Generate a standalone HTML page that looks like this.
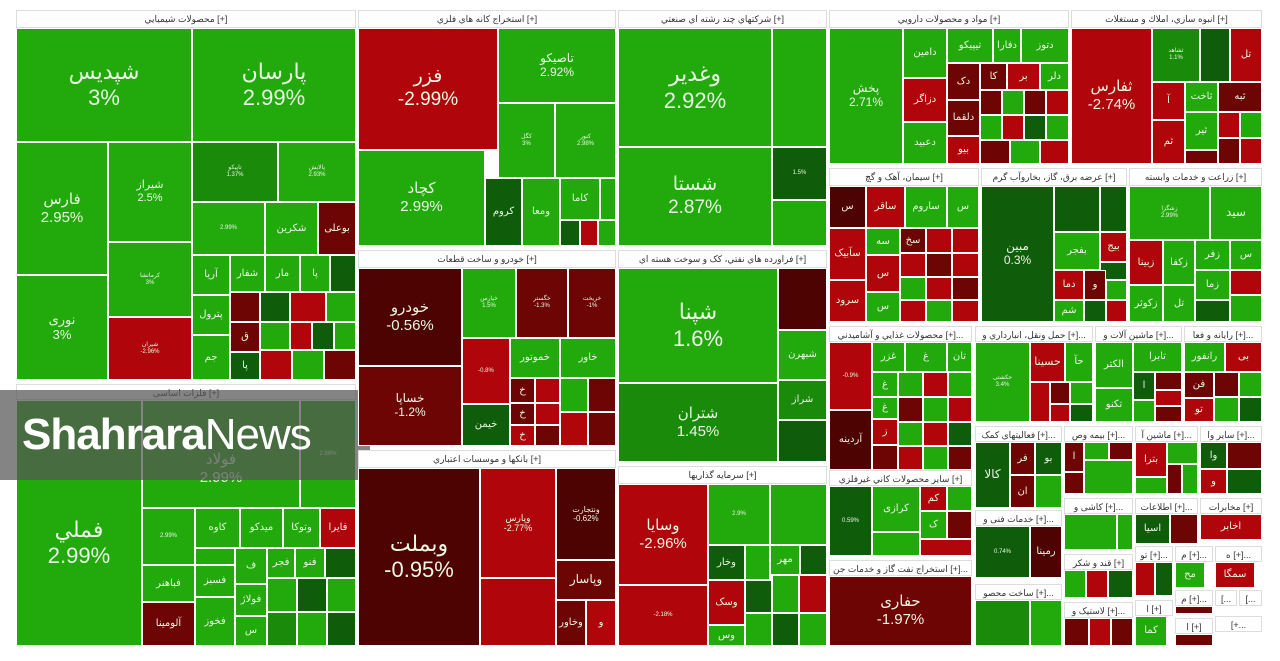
<!DOCTYPE html>
<html><head><meta charset="utf-8"><style>
body{margin:0;width:1280px;height:661px;background:#fff;position:relative;overflow:hidden;font-family:"Liberation Sans","DejaVu Sans",sans-serif}
.c{position:absolute;box-sizing:border-box;border:1px solid #fff;color:#e9f7e4;display:flex;align-items:center;justify-content:center;text-align:center;overflow:hidden;font-size:10px;line-height:1.15}
.h{position:absolute;box-sizing:border-box;background:#fff;border:1px solid #ddd;font-size:9px;color:#333;text-align:center;line-height:16px;overflow:hidden;white-space:nowrap}
.g{background:#22a90b}.g2{background:#1a8a0a}.dg{background:#0f5c0a}.r{background:#b0060b}.dr{background:#6e0505}.ddr{background:#4e0303}
.b{font-size:22px;line-height:1.2}.m{font-size:15px;line-height:1.2}.s{font-size:6px}
.wm{position:absolute;left:0;top:390px;width:370px;height:90px;background:rgba(85,85,85,.72);color:#fff;font-size:44px;line-height:90px;padding-left:22px;box-sizing:border-box;letter-spacing:-1px}
</style></head><body>

<!-- Sector 1 -->
<div class="h" style="left:16px;top:10px;width:340px;height:18px">محصولات شيميايي [+]</div>
<div class="c g b" style="left:16px;top:28px;width:176px;height:114px">شپدیس<br>3%</div>
<div class="c g b" style="left:192px;top:28px;width:164px;height:114px">پارسان<br>2.99%</div>
<div class="c g m" style="left:16px;top:142px;width:92px;height:133px">فارس<br>2.95%</div>
<div class="c g" style="left:16px;top:275px;width:92px;height:105px;font-size:13px">نوری<br>3%</div>
<div class="c g" style="left:108px;top:142px;width:84px;height:100px;font-size:11px">شیراز<br>2.5%</div>
<div class="c g s" style="left:108px;top:242px;width:84px;height:75px">کرمانشا<br>3%</div>
<div class="c r s" style="left:108px;top:317px;width:84px;height:63px">شیران<br>-2.96%</div>
<div class="c g2 s" style="left:192px;top:142px;width:86px;height:60px">تاپیکو<br>1.37%</div>
<div class="c g s" style="left:278px;top:142px;width:78px;height:60px">پالایش<br>2.93%</div>
<div class="c g s" style="left:192px;top:202px;width:73px;height:53px">2.99%</div>
<div class="c g" style="left:265px;top:202px;width:53px;height:53px">شکرین</div>
<div class="c dr" style="left:318px;top:202px;width:38px;height:53px">بوعلی</div>
<div class="c g" style="left:192px;top:255px;width:38px;height:40px">آریا</div>
<div class="c g" style="left:230px;top:255px;width:35px;height:37px">شفار</div>
<div class="c g" style="left:265px;top:255px;width:35px;height:37px">مار</div>
<div class="c g" style="left:300px;top:255px;width:30px;height:37px">پا</div>
<div class="c dg" style="left:330px;top:255px;width:26px;height:37px"></div>
<div class="c g" style="left:192px;top:295px;width:38px;height:40px">پترول</div>
<div class="c g" style="left:192px;top:335px;width:38px;height:45px">جم</div>
<div class="c dr" style="left:230px;top:292px;width:30px;height:30px"></div>
<div class="c dg" style="left:260px;top:292px;width:30px;height:30px"></div>
<div class="c r" style="left:290px;top:292px;width:36px;height:30px"></div>
<div class="c g" style="left:326px;top:292px;width:30px;height:30px"></div>
<div class="c dr" style="left:230px;top:322px;width:30px;height:30px">ق</div>
<div class="c g" style="left:260px;top:322px;width:30px;height:28px"></div>
<div class="c r" style="left:290px;top:322px;width:22px;height:28px"></div>
<div class="c dg" style="left:312px;top:322px;width:22px;height:28px"></div>
<div class="c g" style="left:334px;top:322px;width:22px;height:28px"></div>
<div class="c dg" style="left:230px;top:352px;width:30px;height:28px">پا</div>
<div class="c r" style="left:260px;top:350px;width:32px;height:30px"></div>
<div class="c g" style="left:292px;top:350px;width:32px;height:30px"></div>
<div class="c dr" style="left:324px;top:350px;width:32px;height:30px"></div>

<!-- Sector فلزات -->
<div class="h" style="left:16px;top:384px;width:340px;height:16px">فلزات اساسی [+]</div>
<div class="c g b" style="left:16px;top:400px;width:126px;height:246px;padding-top:40px">فملي<br>2.99%</div>
<div class="c g m" style="left:142px;top:400px;width:158px;height:108px;padding-top:30px">فولاد<br>2.99%</div>
<div class="c g s" style="left:300px;top:400px;width:56px;height:108px">2.88%</div>
<div class="c g s" style="left:142px;top:508px;width:53px;height:57px">2.99%</div>
<div class="c g" style="left:195px;top:508px;width:45px;height:40px">کاوه</div>
<div class="c g" style="left:240px;top:508px;width:43px;height:40px">میدکو</div>
<div class="c g" style="left:283px;top:508px;width:37px;height:40px">وتوکا</div>
<div class="c r" style="left:320px;top:508px;width:36px;height:40px">فایرا</div>
<div class="c g" style="left:142px;top:565px;width:53px;height:37px">فباهنر</div>
<div class="c dr" style="left:142px;top:602px;width:53px;height:44px">آلومینا</div>
<div class="c g" style="left:195px;top:548px;width:40px;height:17px"></div>
<div class="c g" style="left:195px;top:565px;width:40px;height:32px">فسبز</div>
<div class="c g" style="left:195px;top:597px;width:40px;height:49px">فخوز</div>
<div class="c g" style="left:235px;top:548px;width:32px;height:36px">ف</div>
<div class="c g" style="left:267px;top:548px;width:28px;height:30px">فجر</div>
<div class="c g" style="left:295px;top:548px;width:30px;height:30px">فنو</div>
<div class="c dg" style="left:325px;top:548px;width:31px;height:30px"></div>
<div class="c g" style="left:235px;top:584px;width:32px;height:32px">فولاژ</div>
<div class="c g" style="left:235px;top:616px;width:32px;height:30px">س</div>
<div class="c g" style="left:267px;top:578px;width:30px;height:34px"></div>
<div class="c dg" style="left:297px;top:578px;width:30px;height:34px"></div>
<div class="c g" style="left:327px;top:578px;width:29px;height:34px"></div>
<div class="c g2" style="left:267px;top:612px;width:30px;height:34px"></div>
<div class="c g" style="left:297px;top:612px;width:30px;height:34px"></div>
<div class="c dg" style="left:327px;top:612px;width:29px;height:34px"></div>
<div class="wm"><b>Shahrara</b>News</div>

<!-- Col 2 -->
<div class="h" style="left:358px;top:10px;width:258px;height:18px">استخراج کانه هاي فلزي [+]</div>
<div class="c r b" style="left:358px;top:28px;width:140px;height:122px;font-size:19px">فزر<br>-2.99%</div>
<div class="c g m" style="left:358px;top:150px;width:127px;height:96px">کچاد<br>2.99%</div>
<div class="c g" style="left:498px;top:28px;width:118px;height:75px;font-size:12px">تاصیکو<br>2.92%</div>
<div class="c g s" style="left:498px;top:103px;width:57px;height:75px">کگل<br>3%</div>
<div class="c g s" style="left:555px;top:103px;width:61px;height:75px">کنور<br>2.98%</div>
<div class="c dg" style="left:485px;top:178px;width:37px;height:68px">کروم</div>
<div class="c g" style="left:522px;top:178px;width:38px;height:68px">ومعا</div>
<div class="c g" style="left:560px;top:178px;width:40px;height:42px">کاما</div>
<div class="c g" style="left:600px;top:178px;width:16px;height:42px"></div>
<div class="c dg" style="left:560px;top:220px;width:20px;height:26px"></div>
<div class="c r" style="left:580px;top:220px;width:18px;height:26px"></div>
<div class="c g" style="left:598px;top:220px;width:18px;height:26px"></div>

<div class="h" style="left:358px;top:250px;width:258px;height:18px">خودرو و ساخت قطعات [+]</div>
<div class="c ddr m" style="left:358px;top:268px;width:104px;height:98px">خودرو<br>-0.56%</div>
<div class="c dr" style="left:358px;top:366px;width:104px;height:80px;font-size:12px">خساپا<br>-1.2%</div>
<div class="c g s" style="left:462px;top:268px;width:54px;height:70px">خپارس<br>1.5%</div>
<div class="c dr s" style="left:516px;top:268px;width:52px;height:70px">خگستر<br>-1.3%</div>
<div class="c dr s" style="left:568px;top:268px;width:48px;height:70px">خریخت<br>-1%</div>
<div class="c r s" style="left:462px;top:338px;width:48px;height:66px">-0.8%</div>
<div class="c g" style="left:510px;top:338px;width:50px;height:40px">خموتور</div>
<div class="c g" style="left:560px;top:338px;width:56px;height:40px">خاور</div>
<div class="c dg" style="left:462px;top:404px;width:48px;height:42px">خیمن</div>
<div class="c dr" style="left:510px;top:378px;width:25px;height:25px">خ</div>
<div class="c r" style="left:535px;top:378px;width:25px;height:25px"></div>
<div class="c dr" style="left:510px;top:403px;width:25px;height:22px">خ</div>
<div class="c r" style="left:535px;top:403px;width:25px;height:22px"></div>
<div class="c r" style="left:510px;top:425px;width:25px;height:21px">خ</div>
<div class="c dr" style="left:535px;top:425px;width:25px;height:21px"></div>
<div class="c g" style="left:560px;top:378px;width:28px;height:34px"></div>
<div class="c dr" style="left:588px;top:378px;width:28px;height:34px"></div>
<div class="c r" style="left:560px;top:412px;width:28px;height:34px"></div>
<div class="c dr" style="left:588px;top:412px;width:28px;height:34px"></div>

<div class="h" style="left:358px;top:450px;width:258px;height:18px">بانکها و موسسات اعتباري [+]</div>
<div class="c ddr b" style="left:358px;top:468px;width:122px;height:178px">وبملت<br>-0.95%</div>
<div class="c r s" style="left:480px;top:468px;width:76px;height:110px;font-size:9px">وپارس<br>-2.77%</div>
<div class="c ddr s" style="left:556px;top:468px;width:60px;height:92px;font-size:8px">ونتجارت<br>-0.62%</div>
<div class="c r" style="left:480px;top:578px;width:76px;height:68px"></div>
<div class="c dr" style="left:556px;top:560px;width:60px;height:40px;font-size:12px">وپاسار</div>
<div class="c dr" style="left:556px;top:600px;width:30px;height:46px">وخاور</div>
<div class="c r" style="left:586px;top:600px;width:30px;height:46px">و</div>

<!-- Col 3 -->
<div class="h" style="left:618px;top:10px;width:209px;height:18px">شرکتهاي چند رشته اي صنعتي [+]</div>
<div class="c g b" style="left:618px;top:28px;width:154px;height:119px">وغدیر<br>2.92%</div>
<div class="c g b" style="left:618px;top:147px;width:154px;height:99px;font-size:19px">شستا<br>2.87%</div>
<div class="c g" style="left:772px;top:28px;width:55px;height:119px"></div>
<div class="c dg s" style="left:772px;top:147px;width:55px;height:53px">1.5%</div>
<div class="c g" style="left:772px;top:200px;width:55px;height:46px"></div>

<div class="h" style="left:618px;top:250px;width:209px;height:18px">فراورده هاي نفتي، کک و سوخت هسته اي [+]</div>
<div class="c g b" style="left:618px;top:268px;width:160px;height:115px">شپنا<br>1.6%</div>
<div class="c g2 m" style="left:618px;top:383px;width:160px;height:79px">شتران<br>1.45%</div>
<div class="c ddr" style="left:778px;top:268px;width:49px;height:62px"></div>
<div class="c g" style="left:778px;top:330px;width:49px;height:50px">شبهرن</div>
<div class="c g2" style="left:778px;top:380px;width:49px;height:40px">شراز</div>
<div class="c dg" style="left:778px;top:420px;width:49px;height:42px"></div>

<div class="h" style="left:618px;top:466px;width:209px;height:18px">سرمايه گذاريها [+]</div>
<div class="c r m" style="left:618px;top:484px;width:90px;height:101px">وسایا<br>-2.96%</div>
<div class="c r s" style="left:618px;top:585px;width:90px;height:61px">-2.18%</div>
<div class="c g s" style="left:708px;top:484px;width:62px;height:61px">2.9%</div>
<div class="c g s" style="left:770px;top:484px;width:57px;height:61px"></div>
<div class="c dg" style="left:708px;top:545px;width:37px;height:35px">وخار</div>
<div class="c g" style="left:745px;top:545px;width:25px;height:35px"></div>
<div class="c g" style="left:770px;top:545px;width:30px;height:30px">مهر</div>
<div class="c dg" style="left:800px;top:545px;width:27px;height:30px"></div>
<div class="c r" style="left:708px;top:580px;width:37px;height:45px">وسک</div>
<div class="c g" style="left:708px;top:625px;width:37px;height:21px">وس</div>
<div class="c dg" style="left:745px;top:580px;width:27px;height:33px"></div>
<div class="c g" style="left:772px;top:575px;width:27px;height:38px"></div>
<div class="c r" style="left:799px;top:575px;width:28px;height:38px"></div>
<div class="c g" style="left:745px;top:613px;width:27px;height:33px"></div>
<div class="c dg" style="left:772px;top:613px;width:27px;height:33px"></div>
<div class="c g" style="left:799px;top:613px;width:28px;height:33px"></div>

<!-- Col 4 row 1 -->
<div class="h" style="left:829px;top:10px;width:240px;height:18px">مواد و محصولات دارويي [+]</div>
<div class="c g" style="left:829px;top:28px;width:74px;height:136px;font-size:12px">پخش<br>2.71%</div>
<div class="c g" style="left:903px;top:28px;width:44px;height:50px">دامین</div>
<div class="c g" style="left:947px;top:28px;width:46px;height:35px">تیپیکو</div>
<div class="c g" style="left:993px;top:28px;width:28px;height:35px">دفارا</div>
<div class="c g" style="left:1021px;top:28px;width:48px;height:35px">دتوز</div>
<div class="c r" style="left:903px;top:78px;width:44px;height:44px">دزاگر</div>
<div class="c g" style="left:903px;top:122px;width:44px;height:42px">دعبید</div>
<div class="c dr" style="left:947px;top:63px;width:33px;height:37px">دک</div>
<div class="c dr" style="left:980px;top:63px;width:27px;height:27px">کا</div>
<div class="c r" style="left:1007px;top:63px;width:33px;height:27px">بر</div>
<div class="c g" style="left:1040px;top:63px;width:29px;height:27px">دلر</div>
<div class="c dr" style="left:947px;top:100px;width:33px;height:36px">دلقما</div>
<div class="c r" style="left:947px;top:136px;width:33px;height:28px">بیو</div>
<div class="c dr" style="left:980px;top:90px;width:22px;height:25px"></div>
<div class="c g" style="left:1002px;top:90px;width:22px;height:25px"></div>
<div class="c dr" style="left:1024px;top:90px;width:22px;height:25px"></div>
<div class="c r" style="left:1046px;top:90px;width:23px;height:25px"></div>
<div class="c g" style="left:980px;top:115px;width:22px;height:25px"></div>
<div class="c r" style="left:1002px;top:115px;width:22px;height:25px"></div>
<div class="c dg" style="left:1024px;top:115px;width:22px;height:25px"></div>
<div class="c g" style="left:1046px;top:115px;width:23px;height:25px"></div>
<div class="c dr" style="left:980px;top:140px;width:30px;height:24px"></div>
<div class="c g" style="left:1010px;top:140px;width:30px;height:24px"></div>
<div class="c r" style="left:1040px;top:140px;width:29px;height:24px"></div>

<div class="h" style="left:1071px;top:10px;width:191px;height:18px">انبوه سازي، املاك و مستغلات [+]</div>
<div class="c r m" style="left:1071px;top:28px;width:81px;height:136px">ثفارس<br>-2.74%</div>
<div class="c g2 s" style="left:1152px;top:28px;width:48px;height:54px">ثشاهد<br>1.1%</div>
<div class="c dg" style="left:1200px;top:28px;width:30px;height:54px"></div>
<div class="c r" style="left:1230px;top:28px;width:32px;height:54px">تل</div>
<div class="c r" style="left:1152px;top:82px;width:33px;height:38px">آ</div>
<div class="c g" style="left:1185px;top:82px;width:33px;height:30px">ثاخت</div>
<div class="c dr" style="left:1218px;top:82px;width:44px;height:30px">ثبه</div>
<div class="c r" style="left:1152px;top:120px;width:33px;height:44px">ثم</div>
<div class="c g" style="left:1185px;top:112px;width:33px;height:38px">ثیر</div>
<div class="c dr" style="left:1185px;top:150px;width:33px;height:14px"></div>
<div class="c r" style="left:1218px;top:112px;width:22px;height:26px"></div>
<div class="c g" style="left:1240px;top:112px;width:22px;height:26px"></div>
<div class="c dr" style="left:1218px;top:138px;width:22px;height:26px"></div>
<div class="c r" style="left:1240px;top:138px;width:22px;height:26px"></div>

<!-- Row 2 -->
<div class="h" style="left:829px;top:168px;width:150px;height:18px">سیمان، آهک و گچ [+]</div>
<div class="c ddr" style="left:829px;top:186px;width:37px;height:42px">س</div>
<div class="c r" style="left:866px;top:186px;width:39px;height:42px">ساقر</div>
<div class="c g" style="left:905px;top:186px;width:42px;height:42px">ساروم</div>
<div class="c g" style="left:947px;top:186px;width:32px;height:42px">س</div>
<div class="c r" style="left:829px;top:228px;width:37px;height:52px">سآبیک</div>
<div class="c r" style="left:829px;top:280px;width:37px;height:42px">سرود</div>
<div class="c g" style="left:866px;top:228px;width:34px;height:27px">سه</div>
<div class="c r" style="left:866px;top:255px;width:34px;height:37px">س</div>
<div class="c g" style="left:866px;top:292px;width:34px;height:30px">س</div>
<div class="c dr" style="left:900px;top:228px;width:26px;height:25px">سخ</div>
<div class="c r" style="left:926px;top:228px;width:26px;height:25px"></div>
<div class="c r" style="left:952px;top:228px;width:27px;height:25px"></div>
<div class="c r" style="left:900px;top:253px;width:26px;height:24px"></div>
<div class="c dr" style="left:926px;top:253px;width:26px;height:24px"></div>
<div class="c r" style="left:952px;top:253px;width:27px;height:24px"></div>
<div class="c g" style="left:900px;top:277px;width:26px;height:23px"></div>
<div class="c r" style="left:926px;top:277px;width:26px;height:23px"></div>
<div class="c dr" style="left:952px;top:277px;width:27px;height:23px"></div>
<div class="c r" style="left:900px;top:300px;width:26px;height:22px"></div>
<div class="c g" style="left:926px;top:300px;width:26px;height:22px"></div>
<div class="c r" style="left:952px;top:300px;width:27px;height:22px"></div>

<div class="h" style="left:981px;top:168px;width:146px;height:18px">عرضه برق، گاز، بخاروآب گرم [+]</div>
<div class="c dg" style="left:981px;top:186px;width:73px;height:136px;font-size:12px">مبین<br>0.3%</div>
<div class="c dg s" style="left:1054px;top:186px;width:46px;height:46px"></div>
<div class="c dg" style="left:1100px;top:186px;width:27px;height:46px"></div>
<div class="c g" style="left:1054px;top:232px;width:46px;height:38px">بفجر</div>
<div class="c r" style="left:1100px;top:232px;width:27px;height:30px">بیج</div>
<div class="c dg" style="left:1100px;top:262px;width:27px;height:18px"></div>
<div class="c r" style="left:1054px;top:270px;width:30px;height:30px">دما</div>
<div class="c dr" style="left:1084px;top:270px;width:22px;height:30px">و</div>
<div class="c g" style="left:1106px;top:280px;width:21px;height:20px"></div>
<div class="c g" style="left:1054px;top:300px;width:30px;height:22px">شم</div>
<div class="c dg" style="left:1084px;top:300px;width:22px;height:22px"></div>
<div class="c r" style="left:1106px;top:300px;width:21px;height:22px"></div>

<div class="h" style="left:1129px;top:168px;width:133px;height:18px">زراعت و خدمات وابسته [+]</div>
<div class="c g s" style="left:1129px;top:186px;width:81px;height:54px">زشگزا<br>2.99%</div>
<div class="c g" style="left:1210px;top:186px;width:52px;height:54px;font-size:12px">سید</div>
<div class="c r" style="left:1129px;top:240px;width:34px;height:45px">زبینا</div>
<div class="c g" style="left:1163px;top:240px;width:32px;height:45px">زکفا</div>
<div class="c g" style="left:1195px;top:240px;width:35px;height:30px">زفر</div>
<div class="c g" style="left:1230px;top:240px;width:32px;height:30px">س</div>
<div class="c g" style="left:1129px;top:285px;width:34px;height:37px">زکوثر</div>
<div class="c g" style="left:1163px;top:285px;width:32px;height:37px">تل</div>
<div class="c g" style="left:1195px;top:270px;width:35px;height:30px">زما</div>
<div class="c r" style="left:1230px;top:270px;width:32px;height:25px"></div>
<div class="c dg" style="left:1195px;top:300px;width:35px;height:22px"></div>
<div class="c g" style="left:1230px;top:295px;width:32px;height:27px"></div>

<!-- Row 3 -->
<div class="h" style="left:829px;top:326px;width:143px;height:16px">محصولات غذايي و آشاميدني [+]...</div>
<div class="c r s" style="left:829px;top:342px;width:43px;height:68px">-0.9%</div>
<div class="c ddr" style="left:829px;top:410px;width:43px;height:60px">آردینه</div>
<div class="c g" style="left:872px;top:342px;width:33px;height:30px">غزر</div>
<div class="c g" style="left:905px;top:342px;width:42px;height:30px">غ</div>
<div class="c g" style="left:947px;top:342px;width:25px;height:30px">تان</div>
<div class="c g" style="left:872px;top:372px;width:26px;height:25px">غ</div>
<div class="c g" style="left:872px;top:397px;width:26px;height:22px">غ</div>
<div class="c r" style="left:872px;top:419px;width:26px;height:26px">ز</div>
<div class="c dr" style="left:872px;top:445px;width:26px;height:25px"></div>
<div class="c g" style="left:898px;top:372px;width:25px;height:25px"></div>
<div class="c r" style="left:923px;top:372px;width:25px;height:25px"></div>
<div class="c g" style="left:948px;top:372px;width:24px;height:25px"></div>
<div class="c dr" style="left:898px;top:397px;width:25px;height:25px"></div>
<div class="c g" style="left:923px;top:397px;width:25px;height:25px"></div>
<div class="c r" style="left:948px;top:397px;width:24px;height:25px"></div>
<div class="c g" style="left:898px;top:422px;width:25px;height:24px"></div>
<div class="c r" style="left:923px;top:422px;width:25px;height:24px"></div>
<div class="c dg" style="left:948px;top:422px;width:24px;height:24px"></div>
<div class="c r" style="left:898px;top:446px;width:25px;height:24px"></div>
<div class="c g" style="left:923px;top:446px;width:25px;height:24px"></div>
<div class="c dr" style="left:948px;top:446px;width:24px;height:24px"></div>

<div class="h" style="left:829px;top:470px;width:143px;height:16px">ساير محصولات كاني غيرفلزي [+]</div>
<div class="c dg s" style="left:829px;top:486px;width:43px;height:70px">0.59%</div>
<div class="c g" style="left:872px;top:486px;width:48px;height:46px">کرازی</div>
<div class="c r" style="left:920px;top:486px;width:27px;height:25px">کم</div>
<div class="c g" style="left:947px;top:486px;width:25px;height:25px"></div>
<div class="c g" style="left:920px;top:511px;width:27px;height:28px">ک</div>
<div class="c dr" style="left:947px;top:511px;width:25px;height:28px"></div>
<div class="c g" style="left:872px;top:532px;width:48px;height:24px"></div>
<div class="c r" style="left:920px;top:539px;width:52px;height:17px"></div>

<div class="h" style="left:829px;top:560px;width:143px;height:16px">استخراج نفت گاز و خدمات جن [+]...</div>
<div class="c dr m" style="left:829px;top:576px;width:143px;height:70px">حفاری<br>-1.97%</div>

<div class="h" style="left:975px;top:326px;width:118px;height:16px">حمل ونقل، انبارداري و [+]...</div>
<div class="c g s" style="left:975px;top:342px;width:55px;height:80px">حکشتی<br>3.4%</div>
<div class="c r" style="left:1030px;top:342px;width:35px;height:40px;font-size:11px">حسینا</div>
<div class="c g" style="left:1065px;top:342px;width:28px;height:40px">حآ</div>
<div class="c r" style="left:1030px;top:382px;width:20px;height:40px"></div>
<div class="c dr" style="left:1050px;top:382px;width:20px;height:22px"></div>
<div class="c g" style="left:1070px;top:382px;width:23px;height:22px"></div>
<div class="c r" style="left:1050px;top:404px;width:20px;height:18px"></div>
<div class="c dg" style="left:1070px;top:404px;width:23px;height:18px"></div>

<div class="h" style="left:1095px;top:326px;width:87px;height:16px">ماشین آلات و [+]...</div>
<div class="c g" style="left:1095px;top:342px;width:38px;height:46px">الکتر</div>
<div class="c g" style="left:1133px;top:342px;width:49px;height:30px">تابرا</div>
<div class="c g" style="left:1095px;top:388px;width:38px;height:34px">تکنو</div>
<div class="c dg" style="left:1133px;top:372px;width:22px;height:28px">ا</div>
<div class="c dr" style="left:1155px;top:372px;width:27px;height:18px"></div>
<div class="c r" style="left:1155px;top:390px;width:27px;height:16px"></div>
<div class="c g" style="left:1133px;top:400px;width:22px;height:22px"></div>
<div class="c dr" style="left:1155px;top:406px;width:27px;height:16px"></div>

<div class="h" style="left:1184px;top:326px;width:78px;height:16px">رایانه و فعا [+]...</div>
<div class="c g" style="left:1184px;top:342px;width:41px;height:30px">رانفور</div>
<div class="c r" style="left:1225px;top:342px;width:37px;height:30px">بی</div>
<div class="c dr" style="left:1184px;top:372px;width:30px;height:26px">فن</div>
<div class="c r" style="left:1184px;top:398px;width:30px;height:24px">تو</div>
<div class="c dr" style="left:1214px;top:372px;width:25px;height:25px"></div>
<div class="c g" style="left:1239px;top:372px;width:23px;height:25px"></div>
<div class="c g" style="left:1214px;top:397px;width:25px;height:25px"></div>
<div class="c dg" style="left:1239px;top:397px;width:23px;height:25px"></div>

<div class="h" style="left:975px;top:426px;width:87px;height:16px">فعالیتهای کمک [+]...</div>
<div class="c dg" style="left:975px;top:442px;width:35px;height:66px;font-size:12px">کالا</div>
<div class="c dr" style="left:1010px;top:442px;width:25px;height:33px">فر</div>
<div class="c dg" style="left:1035px;top:442px;width:27px;height:33px">بو</div>
<div class="c dr" style="left:1010px;top:475px;width:25px;height:33px">ان</div>
<div class="c g" style="left:1035px;top:475px;width:27px;height:33px"></div>

<div class="h" style="left:1064px;top:426px;width:69px;height:16px">بیمه وص [+]...</div>
<div class="c dr" style="left:1064px;top:442px;width:20px;height:30px">ا</div>
<div class="c g" style="left:1084px;top:442px;width:25px;height:18px"></div>
<div class="c dr" style="left:1109px;top:442px;width:24px;height:18px"></div>
<div class="c dr" style="left:1064px;top:472px;width:20px;height:22px"></div>
<div class="c g" style="left:1084px;top:460px;width:49px;height:34px"></div>

<div class="h" style="left:1135px;top:426px;width:63px;height:16px">ماشین آ [+]...</div>
<div class="c r" style="left:1135px;top:442px;width:32px;height:35px">بترا</div>
<div class="c g" style="left:1167px;top:442px;width:31px;height:22px"></div>
<div class="c dr" style="left:1167px;top:464px;width:15px;height:30px"></div>
<div class="c g" style="left:1135px;top:477px;width:32px;height:17px"></div>
<div class="c g" style="left:1182px;top:464px;width:16px;height:30px"></div>

<div class="h" style="left:1200px;top:426px;width:62px;height:16px">سایر وا [+]...</div>
<div class="c dg" style="left:1200px;top:442px;width:27px;height:27px">وا</div>
<div class="c dr" style="left:1227px;top:442px;width:35px;height:27px"></div>
<div class="c r" style="left:1200px;top:469px;width:27px;height:25px">و</div>
<div class="c dg" style="left:1227px;top:469px;width:35px;height:25px"></div>

<div class="h" style="left:975px;top:510px;width:87px;height:16px">خدمات فنی و [+]...</div>
<div class="c dg s" style="left:975px;top:526px;width:55px;height:52px">0.74%</div>
<div class="c ddr" style="left:1030px;top:526px;width:32px;height:52px">رمینا</div>

<div class="h" style="left:975px;top:584px;width:87px;height:16px">ساخت محصو [+]...</div>
<div class="c g2 s" style="left:975px;top:600px;width:55px;height:46px"></div>
<div class="c g" style="left:1030px;top:600px;width:32px;height:46px"></div>

<div class="h" style="left:1064px;top:498px;width:69px;height:16px">کاشی و [+]...</div>
<div class="c g s" style="left:1064px;top:514px;width:53px;height:36px"></div>
<div class="c g" style="left:1117px;top:514px;width:16px;height:36px"></div>
<div class="h" style="left:1064px;top:554px;width:69px;height:16px">قند و شکر [+]</div>
<div class="c g" style="left:1064px;top:570px;width:22px;height:28px"></div>
<div class="c r" style="left:1086px;top:570px;width:22px;height:28px"></div>
<div class="c dg" style="left:1108px;top:570px;width:25px;height:28px"></div>
<div class="h" style="left:1064px;top:602px;width:69px;height:16px">لاستیک و [+]...</div>
<div class="c dr" style="left:1064px;top:618px;width:25px;height:28px"></div>
<div class="c r" style="left:1089px;top:618px;width:22px;height:28px"></div>
<div class="c dr" style="left:1111px;top:618px;width:22px;height:28px"></div>

<div class="h" style="left:1135px;top:498px;width:63px;height:16px">اطلاعات [+]...</div>
<div class="c dg" style="left:1135px;top:514px;width:35px;height:30px">اسیا</div>
<div class="c dr" style="left:1170px;top:514px;width:28px;height:30px"></div>
<div class="h" style="left:1200px;top:498px;width:62px;height:16px">مخابرات [+]</div>
<div class="c r" style="left:1200px;top:514px;width:62px;height:26px">اخابر</div>

<div class="h" style="left:1135px;top:546px;width:38px;height:16px">تو [+]...</div>
<div class="c r" style="left:1135px;top:562px;width:20px;height:34px"></div>
<div class="c dg" style="left:1155px;top:562px;width:18px;height:34px"></div>
<div class="h" style="left:1175px;top:546px;width:38px;height:16px">م [+]...</div>
<div class="c g" style="left:1175px;top:562px;width:30px;height:26px">مح</div>
<div class="h" style="left:1215px;top:546px;width:47px;height:16px">ه [+]...</div>
<div class="c r" style="left:1215px;top:562px;width:40px;height:26px">سمگا</div>
<div class="h" style="left:1135px;top:600px;width:38px;height:16px">ا [+]</div>
<div class="c g" style="left:1135px;top:616px;width:32px;height:30px">کما</div>
<div class="h" style="left:1175px;top:590px;width:38px;height:16px">م [+]...</div>
<div class="c dr" style="left:1175px;top:606px;width:38px;height:8px"></div>
<div class="h" style="left:1175px;top:618px;width:38px;height:16px">ا [+]</div>
<div class="c dr" style="left:1175px;top:634px;width:38px;height:12px"></div>
<div class="h" style="left:1215px;top:590px;width:22px;height:16px">[...</div>
<div class="h" style="left:1239px;top:590px;width:23px;height:16px">[...</div>
<div class="h" style="left:1215px;top:616px;width:47px;height:16px">[+...</div>
</body></html>
